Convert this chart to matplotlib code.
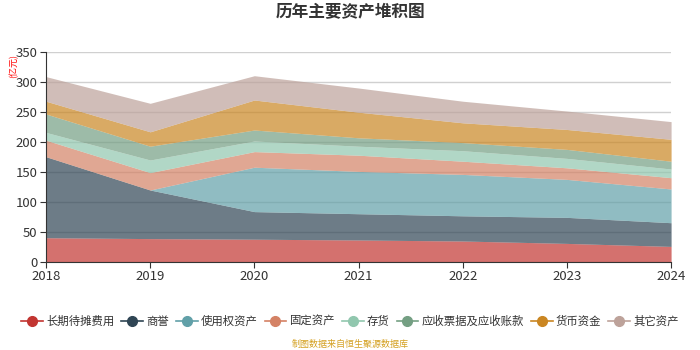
import matplotlib.pyplot as plt
from matplotlib.lines import Line2D
import numpy as np

plt.rcParams['font.family'] = ['Noto Sans CJK SC', 'DejaVu Sans']

years = [2018, 2019, 2020, 2021, 2022, 2023, 2024]
series_names = ["长期待摊费用", "商誉", "使用权资产", "固定资产", "存货",
                "应收票据及应收账款", "货币资金", "其它资产"]

# values in 亿元, bottom layer first
long_term_prepaid = [40.5, 39.0, 38.0, 36.7, 35.0, 31.0, 26.0]
goodwill = [135.0, 81.0, 46.0, 43.8, 42.0, 43.4, 39.5]
right_of_use = [0.0, 0.0, 74.0, 70.5, 69.0, 63.3, 56.2]
fixed_assets = [27.5, 29.0, 26.0, 27.0, 22.0, 19.3, 18.8]
inventory = [13.0, 21.0, 17.7, 15.0, 17.5, 15.7, 14.5]
receivables = [30.7, 23.0, 18.3, 14.0, 13.5, 15.0, 13.0]
cash = [21.3, 24.0, 50.0, 42.7, 33.0, 33.2, 36.5]
other_assets = [41.0, 47.5, 40.5, 40.3, 36.0, 30.7, 29.5]

all_series = [long_term_prepaid, goodwill, right_of_use, fixed_assets,
              inventory, receivables, cash, other_assets]
colors = ['#c23531', '#2f4554', '#61a0a8', '#d48265', '#91c7ae',
          '#749f83', '#ca8622', '#bda29a']

fig = plt.figure(figsize=(7, 3.5), dpi=100)
ax = fig.add_axes([0.0657, 0.2514, 0.893, 0.6])

base = np.zeros(len(years))
for vals, col in zip(all_series, colors):
    top = base + np.array(vals)
    ax.fill_between(years, base, top, color=col, alpha=0.7, linewidth=0)
    base = top

ax.set_xlim(2018, 2024)
ax.set_ylim(0, 350)
ax.set_xticks(years)
ax.set_yticks(range(0, 351, 50))
ax.yaxis.grid(True, color='#d0d0d0', linewidth=1)
ax.set_axisbelow(True)
for s in ['top', 'right']:
    ax.spines[s].set_visible(False)
for s in ['left', 'bottom']:
    ax.spines[s].set_color('#333333')
ax.tick_params(axis='both', labelsize=9.5, colors='#333333', length=4, pad=2)

fig.text(0.5, 0.965, "历年主要资产堆积图", ha='center', va='center',
         fontsize=12, fontweight='bold', color='#333333')
fig.text(0.02, 0.81, "(亿元)", rotation=90, ha='center', va='center',
         fontsize=6.5, color='#ff0000')

handles = [Line2D([0], [0], color=c, marker='o', markersize=7, linewidth=1.2)
           for c in colors]
fig.legend(handles, series_names, loc='center', bbox_to_anchor=(0.5, 0.083),
           ncol=8, frameon=False, fontsize=8.2, handlelength=1.9,
           handletextpad=0.3, columnspacing=0.6, labelcolor='#333333')

fig.text(0.5, 0.015, "制图数据来自恒生聚源数据库", ha='center', va='center',
         fontsize=6.5, color='#d4a020')

fig.savefig("out.png", dpi=100)
